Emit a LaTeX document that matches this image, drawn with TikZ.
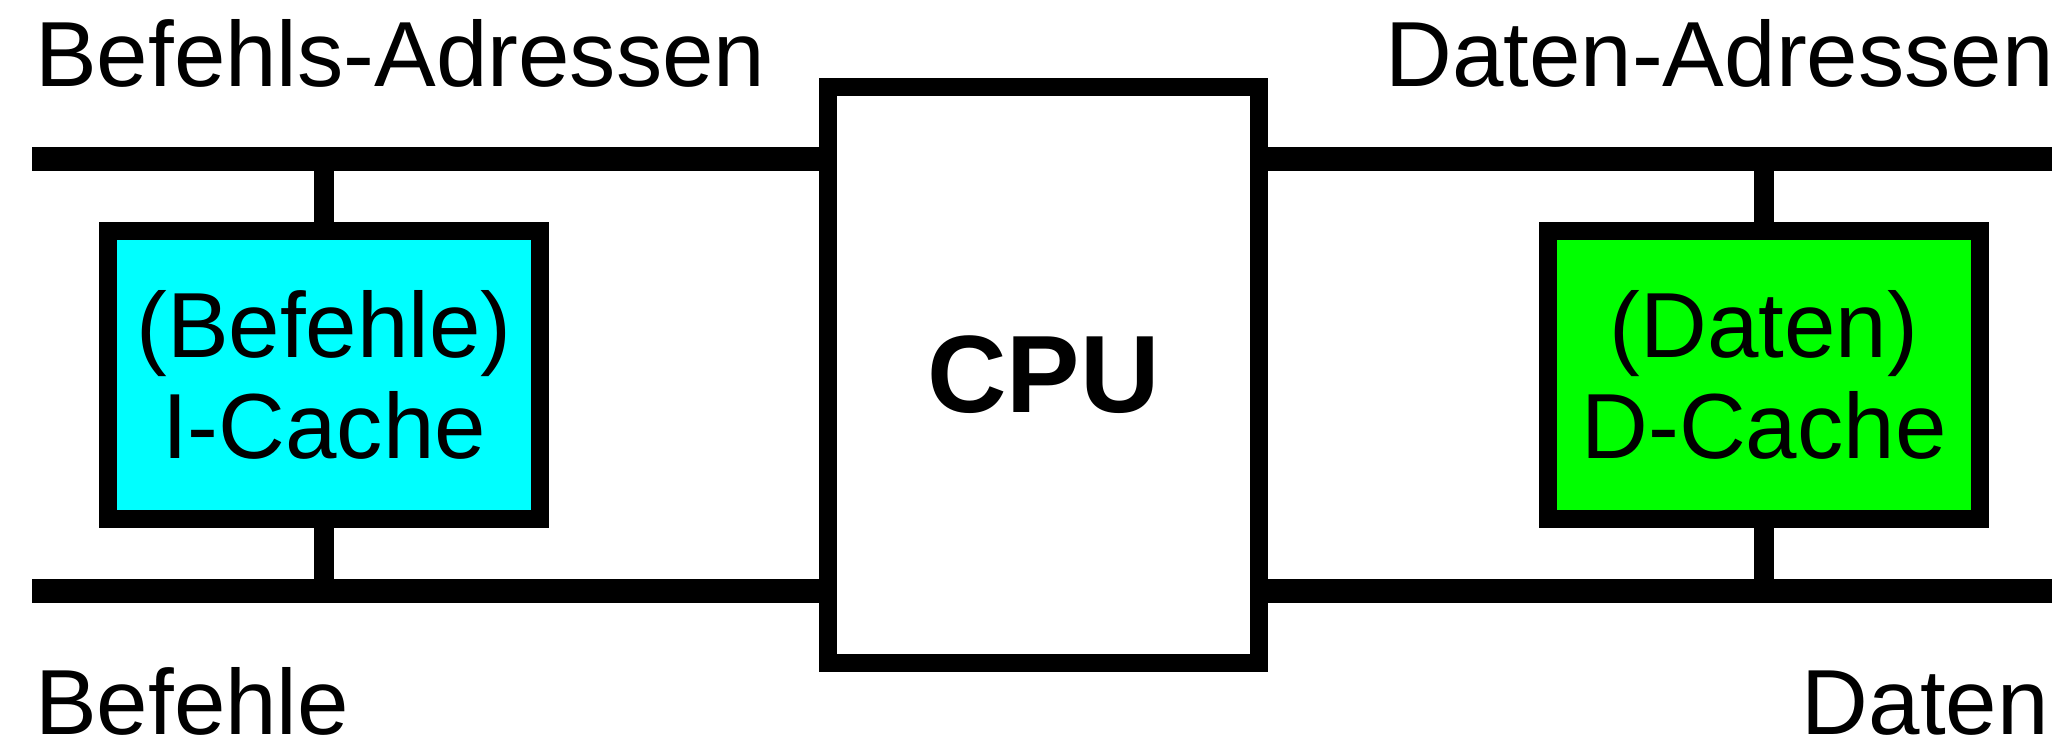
\documentclass[tikz,border=0pt]{standalone}
\usepackage{fontspec}
\setmainfont{Liberation Sans}
\definecolor{icyan}{RGB}{0,255,255}
\definecolor{dgreen}{RGB}{0,255,0}
\tikzset{
  bigfont/.style={font=\fontsize{92.5}{101}\selectfont},
  cpubox/.style={draw=black, line width=18pt, fill=white, inner sep=0pt,
    minimum width=431pt, minimum height=576pt,
    font=\fontsize{110}{120}\selectfont\bfseries},
  cachebox/.style={draw=black, line width=18pt, inner sep=0pt,
    minimum width=432pt, minimum height=288pt, align=center, bigfont},
  bus/.style={line width=24pt, line cap=butt},
  tap/.style={line width=20pt, line cap=butt},
  lbl/.style={inner sep=0pt, text depth=0pt, bigfont}
}
\begin{document}
\begin{tikzpicture}[x=1pt, y=-1pt]
\useasboundingbox (0,0) rectangle (2054,741);
% nodes
\node[cpubox] (cpu) at (1043.5,375) {CPU};
\node[cachebox, fill=icyan] (ic) at (324,375) {(Befehle)\\I-Cache};
\node[cachebox, fill=dgreen] (dc) at (1764,375) {(Daten)\\D-Cache};
% bus end points
\coordinate (tl) at (32,159);
\coordinate (bl) at (32,591);
\coordinate (tr) at (2052,159);
\coordinate (br) at (2052,591);
% buses
\draw[bus] (tl) -- (tl -| cpu.west);
\draw[bus] (bl) -- (bl -| cpu.west);
\draw[bus] (tr -| cpu.east) -- (tr);
\draw[bus] (br -| cpu.east) -- (br);
% taps
\draw[tap] (ic.north) -- (ic.north |- tl);
\draw[tap] (ic.south) -- (ic.south |- bl);
\draw[tap] (dc.north) -- (dc.north |- tr);
\draw[tap] (dc.south) -- (dc.south |- br);
% labels
\node[lbl, anchor=base west] (la) at (35,87) {Befehls-Adressen};
\node[lbl, anchor=base east] (ra) at (2054,87) {Daten-Adressen};
\node[lbl, anchor=base west] (lb) at (35,734) {Befehle};
\node[lbl, anchor=base east] (rb) at (2049,734) {Daten};
\end{tikzpicture}
\end{document}
